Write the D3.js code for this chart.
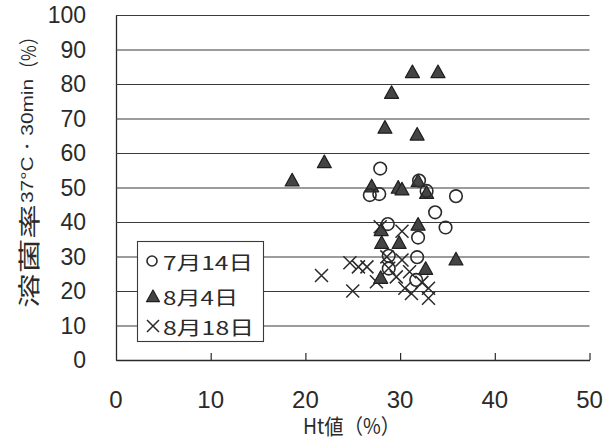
<!DOCTYPE html>
<html>
<head>
<meta charset="utf-8">
<script src="https://cdn.jsdelivr.net/npm/d3@7"></script>
<style>
  html, body { margin: 0; padding: 0; background: #fff; }
  svg { display: block; }
</style>
</head>
<body>
<script>
// Series labels (legend)
const seriesNames = ["7月14日", "8月4日", "8月18日"];

// 7月14日 — Ht値 (%) and 溶菌率 (%)
const htJul14    = [27.9, 26.8, 27.8, 32.0, 32.8, 35.9, 33.7, 34.8, 28.7, 31.9, 31.8, 28.8, 28.8, 31.7];
const lysisJul14 = [55.5, 47.8, 48.1, 52.0, 49.0, 47.5, 42.8, 38.4, 39.4, 35.5, 29.8, 30.2, 26.5, 23.2];

// 8月4日
const htAug4    = [31.3, 34.0, 29.1, 28.4, 31.8, 22.0, 18.6, 27.0, 29.8, 30.2, 31.9, 32.8, 28.0, 31.9, 28.05, 29.9, 35.9, 32.7, 27.95];
const lysisAug4 = [83.3, 83.3, 77.3, 67.2, 65.2, 57.2, 51.9, 50.2, 49.8, 49.3, 51.7, 48.3, 37.5, 39.1, 33.8, 33.8, 29.0, 26.3, 23.7];

// 8月18日
const htAug18    = [21.7, 24.7, 25.6, 26.5, 25.0, 27.9, 30.2, 28.6, 30.2, 28.8, 31.0, 29.6, 27.5, 30.5, 31.2, 33.0, 33.0, 32.3];
const lysisAug18 = [24.5, 28.2, 27.0, 27.0, 20.0, 38.6, 37.3, 29.9, 29.0, 26.6, 25.6, 24.1, 22.7, 20.8, 19.3, 20.8, 17.9, 22.5];

// Axis ticks
const xTicks = [0, 10, 20, 30, 40, 50];
const yTicks = [0, 10, 20, 30, 40, 50, 60, 70, 80, 90, 100];

const W = 607, H = 439;
const svg = d3.select("body").append("svg").attr("width", W).attr("height", H);

const x = d3.scaleLinear().domain([0, 50]).range([116, 589.5]);
const y = d3.scaleLinear().domain([0, 100]).range([360, 15]);

const ink = "#2a2a2a";
const numFont = "'Liberation Sans', Arial, sans-serif";
const jpFont = "'Noto Sans CJK JP', 'Noto Sans', sans-serif";

// Horizontal gridlines (with short outer ticks on the left)
const yAxis = d3.axisLeft(y).tickValues(yTicks).tickSize(-(x(50) - x(0))).tickSizeOuter(0).tickFormat("");
const gy = svg.append("g").attr("transform", `translate(${x(0)},0)`).call(yAxis);
gy.select(".domain").attr("stroke", ink).attr("stroke-width", 1.3);
gy.selectAll(".tick line").attr("stroke", "#3a3a3a").attr("stroke-width", 1.1);

// Y tick labels
svg.append("g").selectAll("text").data(yTicks).join("text")
  .attr("x", 86).attr("y", d => y(d))
  .attr("text-anchor", "end").attr("dominant-baseline", "central")
  .attr("font-family", numFont).attr("font-size", 23).attr("fill", ink)
  .text(d => d);

// X axis with inward ticks
const xAxis = d3.axisBottom(x).tickValues(xTicks.slice(1)).tickSize(-7).tickSizeOuter(0).tickFormat("");
const gx = svg.append("g").attr("transform", `translate(0,${y(0)})`).call(xAxis);
gx.select(".domain").attr("stroke", ink).attr("stroke-width", 1.3);
gx.selectAll(".tick line").attr("stroke", ink).attr("stroke-width", 1.2);

// X tick labels
svg.append("g").selectAll("text").data(xTicks).join("text")
  .attr("x", d => x(d)).attr("y", 399)
  .attr("text-anchor", "middle").attr("dominant-baseline", "central")
  .attr("font-family", numFont).attr("font-size", 24).attr("fill", ink)
  .text(d => d);

// X axis title
svg.append("text")
  .attr("x", 303).attr("y", 425)
  .attr("dominant-baseline", "central")
  .attr("font-family", jpFont).attr("font-size", 21).attr("fill", ink)
  .attr("textLength", 97).attr("lengthAdjust", "spacingAndGlyphs")
  .text("Ht値（%）");

// Y axis title, written bottom-to-top in three parts
const yt = svg.append("g").attr("transform", "translate(27,0) rotate(-90)");
yt.append("text")
  .attr("x", -308).attr("y", 0).attr("dominant-baseline", "central")
  .attr("font-family", jpFont).attr("font-size", 22).attr("fill", ink)
  .attr("textLength", 104).attr("lengthAdjust", "spacingAndGlyphs")
  .text("溶菌率");
yt.append("text")
  .attr("x", -203).attr("y", 0).attr("dominant-baseline", "central")
  .attr("font-family", numFont).attr("font-size", 17).attr("fill", ink)
  .attr("textLength", 124).attr("lengthAdjust", "spacingAndGlyphs")
  .text("37°C・30min");
yt.append("text")
  .attr("x", -78).attr("y", 0).attr("dominant-baseline", "central")
  .attr("font-family", jpFont).attr("font-size", 20).attr("fill", ink)
  .attr("textLength", 50).attr("lengthAdjust", "spacingAndGlyphs")
  .text("（%）");

// Marker shapes
function drawCircle(g, cx, cy, r) {
  g.append("circle").attr("cx", cx).attr("cy", cy).attr("r", r)
    .attr("fill", "#fff").attr("fill-opacity", 0).attr("stroke", ink).attr("stroke-width", 1.6);
}
function drawTriangle(g, cx, cy, s) {
  const h = s * 0.9;
  g.append("path")
    .attr("d", `M${cx},${cy - h * 0.6}L${cx + s / 2},${cy + h * 0.4}L${cx - s / 2},${cy + h * 0.4}Z`)
    .attr("fill", "#444").attr("stroke", "#1e1e1e").attr("stroke-width", 1.2).attr("stroke-linejoin", "round");
}
function drawCross(g, cx, cy, s) {
  const a = s / 2;
  g.append("path")
    .attr("d", `M${cx - a},${cy - a}L${cx + a},${cy + a}M${cx + a},${cy - a}L${cx - a},${cy + a}`)
    .attr("stroke", ink).attr("stroke-width", 1.5).attr("fill", "none");
}

const marks = svg.append("g");
const gCross = marks.append("g");
htAug18.forEach((v, i) => drawCross(gCross, x(v), y(lysisAug18[i]), 13));
const gTri = marks.append("g");
htAug4.forEach((v, i) => drawTriangle(gTri, x(v), y(lysisAug4[i]), 14));
const gCirc = marks.append("g");
htJul14.forEach((v, i) => drawCircle(gCirc, x(v), y(lysisJul14[i]), 6.3));

// Legend
const lg = svg.append("g");
lg.append("rect").attr("x", 137.5).attr("y", 241.5).attr("width", 126).attr("height", 100)
  .attr("fill", "#fff").attr("stroke", "#3a3a3a").attr("stroke-width", 1.1);
const rows = [261, 296, 326];
const lens = [90, 75, 91];
drawCircle(lg, 152, rows[0], 5);
drawTriangle(lg, 153, rows[1] + 1, 13);
drawCross(lg, 153, rows[2], 12);
seriesNames.forEach((s, i) => {
  lg.append("text")
    .attr("x", 163).attr("y", rows[i]).attr("dominant-baseline", "central")
    .attr("font-family", jpFont).attr("font-size", 19).attr("fill", ink)
    .attr("textLength", lens[i]).attr("lengthAdjust", "spacingAndGlyphs")
    .text(s);
});
</script>
</body>
</html>
